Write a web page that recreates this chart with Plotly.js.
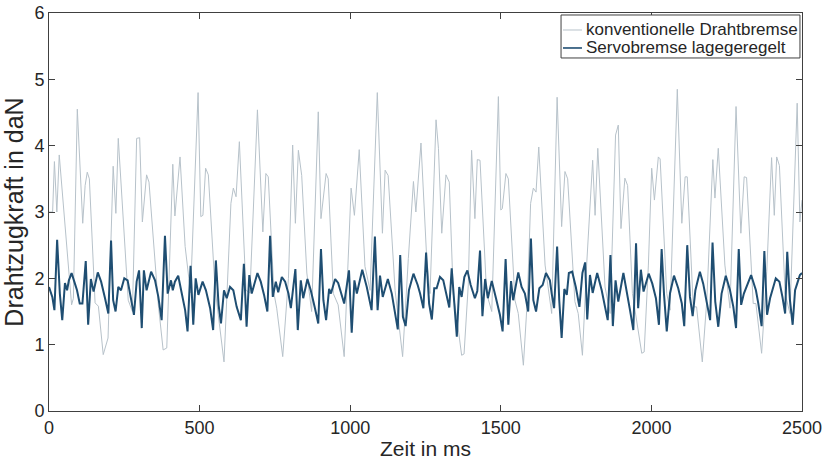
<!DOCTYPE html>
<html>
<head>
<meta charset="utf-8">
<script src="https://cdn.plot.ly/plotly-3.0.1.min.js"></script>
<style>html,body{margin:0;padding:0;background:#fff}#chart{width:827px;height:460px}</style>
</head>
<body>
<div id="chart"></div>
<script>
// konventionelle Drahtbremse: time (ms) and force (daN)
const tConv = [0,12,18,26,34,56,75,81,94,112,120,127,134,153,164,180,196,213,222,230,249,263,277,291,301,310,324,332,363,379,391,411,418,435,452,470,495,504,511,520,529,551,562,581,604,612,621,632,654,667,692,710,720,728,747,756,776,795,809,818,828,839,856,872,894,903,920,927,944,960,980,1003,1014,1030,1049,1066,1090,1107,1116,1126,1149,1160,1174,1193,1210,1218,1235,1254,1265,1285,1293,1304,1318,1329,1342,1356,1370,1378,1392,1403,1414,1422,1431,1453,1470,1492,1500,1505,1517,1525,1547,1558,1575,1588,1599,1608,1617,1626,1647,1669,1687,1702,1713,1722,1746,1757,1771,1785,1805,1813,1822,1846,1863,1881,1890,1899,1912,1921,1937,1968,1976,1990,2001,2010,2023,2029,2051,2062,2086,2101,2112,2119,2139,2150,2169,2184,2204,2211,2222,2244,2261,2281,2297,2308,2316,2338,2347,2366,2383,2399,2408,2416,2425,2444,2460,2484,2493,2500];
const fConv = [3.0,3.0,3.76,3.0,3.86,2.6,1.6,1.7,4.55,2.83,3.4,3.6,3.5,1.63,1.58,0.85,1.1,3.69,2.98,4.11,2.6,1.67,1.5,4.11,4.12,2.85,3.56,3.45,1.6,0.92,0.95,3.72,2.94,3.83,2.48,1.78,4.8,2.93,2.95,3.66,3.56,1.87,1.45,0.74,3.13,3.36,3.23,4.06,1.82,1.78,4.54,2.7,3.58,3.53,1.77,1.55,0.82,2.0,4.01,2.83,3.93,3.55,2.08,1.5,4.51,2.9,3.58,3.5,1.77,1.6,0.82,3.36,2.95,3.94,2.18,1.82,4.8,2.68,3.63,3.55,1.82,1.37,0.82,2.3,3.46,3.0,4.04,2.3,1.77,4.39,3.96,2.68,3.56,3.45,1.77,1.33,0.84,0.86,1.9,3.93,2.9,3.79,3.78,1.77,1.5,4.74,3.03,3.05,3.58,3.5,1.67,1.47,0.69,1.67,3.13,3.36,3.3,3.98,2.2,1.47,4.73,2.78,3.61,3.5,1.65,1.47,0.84,2.2,3.78,2.95,3.96,1.87,1.47,4.16,4.31,2.75,3.51,3.4,1.77,0.87,0.89,2.2,3.66,3.18,3.83,3.8,1.77,1.52,4.85,2.83,3.53,3.53,1.57,1.57,0.74,1.67,3.79,3.21,3.96,2.2,1.55,4.59,2.68,3.53,3.52,1.62,1.62,0.87,2.1,3.82,2.95,3.83,3.7,1.77,1.47,4.64,2.85,3.18];

// Servobremse lagegeregelt: time (ms) and force (daN)
const tServo = [0,11,18,27,36,44,53,60,66,75,84,93,102,111,122,130,139,148,162,173,186,197,206,213,221,230,239,250,261,272,282,291,299,308,315,324,339,352,363,374,385,394,405,411,418,429,441,452,460,470,479,487,496,510,521,535,545,554,563,571,581,590,601,612,623,637,647,656,665,673,692,703,714,725,734,743,753,761,773,784,795,803,818,826,836,844,858,869,883,894,903,911,920,930,936,950,960,980,996,1005,1014,1022,1040,1055,1071,1082,1091,1099,1108,1125,1138,1149,1158,1166,1175,1184,1195,1210,1224,1232,1243,1252,1262,1271,1279,1287,1298,1309,1320,1329,1337,1346,1354,1362,1370,1379,1389,1400,1414,1422,1431,1439,1448,1457,1470,1484,1497,1506,1516,1525,1534,1541,1558,1569,1580,1591,1600,1608,1617,1628,1639,1650,1663,1669,1677,1687,1694,1702,1711,1719,1726,1737,1749,1761,1771,1780,1787,1796,1805,1820,1835,1846,1855,1864,1872,1881,1890,1907,1918,1929,1940,1949,1956,1965,1974,1991,2003,2015,2025,2034,2042,2051,2062,2075,2089,2101,2109,2119,2128,2137,2146,2161,2172,2186,2195,2203,2212,2222,2233,2247,2261,2272,2281,2290,2298,2307,2331,2347,2355,2366,2375,2384,2394,2413,2425,2435,2444,2451,2460,2469,2477,2484,2493,2500];
const fServo = [1.87,1.72,1.52,2.58,1.77,1.37,1.93,1.82,1.97,2.08,1.95,1.82,1.62,1.62,2.26,1.3,1.99,1.8,2.09,1.95,1.7,1.47,2.57,1.67,1.5,1.87,1.82,2.0,1.97,1.72,1.45,1.95,2.12,1.25,2.12,1.82,2.1,1.97,1.72,1.37,2.64,1.77,1.97,1.82,1.95,2.04,1.77,1.52,1.2,2.19,1.3,2.0,1.75,1.95,1.82,1.55,1.22,2.27,1.6,1.32,1.82,1.7,1.87,1.82,1.57,1.37,2.22,1.27,2.05,1.77,2.08,1.95,1.75,1.5,2.64,1.72,1.95,1.79,2.02,1.95,1.77,1.55,2.14,1.22,1.97,1.7,1.99,1.82,1.55,1.32,2.44,1.67,1.37,1.84,1.77,1.99,1.93,1.62,2.12,1.18,1.97,1.77,2.13,1.87,1.52,2.63,1.52,2.04,1.72,1.99,1.77,1.45,1.23,2.35,1.42,1.28,1.82,2.07,1.9,1.77,1.55,2.39,1.62,1.38,1.85,1.85,2.02,1.97,1.77,1.56,2.15,1.67,1.12,1.87,1.72,2.02,2.12,1.9,1.7,1.81,2.42,1.43,1.99,1.7,1.96,1.7,1.45,1.2,2.29,1.3,1.96,1.67,2.09,1.87,1.77,1.5,2.6,1.67,1.5,1.85,1.9,2.08,1.97,1.77,1.55,2.48,1.67,1.1,1.84,1.75,2.08,2.1,1.87,1.57,2.08,2.24,1.38,2.05,1.78,2.08,1.82,1.57,1.37,2.35,1.28,1.97,1.65,2.08,1.82,1.52,1.22,2.53,1.55,2.13,1.8,2.07,1.92,1.7,1.3,2.44,1.75,1.2,1.78,2.04,1.85,1.62,1.28,2.5,1.72,1.43,1.82,2.1,1.92,1.6,1.37,2.54,1.65,1.27,1.77,2.04,1.82,1.57,1.25,2.44,1.6,1.77,2.05,1.82,1.62,1.28,2.41,1.45,1.7,2.0,1.95,1.72,1.47,2.4,1.67,1.3,1.82,1.92,2.05,2.08];

const xTicks = [0, 500, 1000, 1500, 2000, 2500];
const yTicks = [0, 1, 2, 3, 4, 5, 6];
const names = ['konventionelle Drahtbremse', 'Servobremse lagegeregelt'];
const xTitle = 'Zeit in ms';
const yTitle = 'Drahtzugkraft in daN';

const colConv = '#b7c2ca';
const colServo = '#1f4e72';
const axisCol = '#404040';
const textCol = '#262626';
const tickFont = {family: 'Liberation Sans Narrow, Arial Narrow, Liberation Sans, Arial, sans-serif', size: 18, color: textCol};

const data = [
  {x: tConv, y: fConv, name: names[0], type: 'scatter', mode: 'lines',
   line: {color: colConv, width: 1}},
  {x: tServo, y: fServo, name: names[1], type: 'scatter', mode: 'lines',
   line: {color: colServo, width: 2}}
];

// custom legend box (paper coordinates)
const lg = {x0: 0.680, x1: 0.9973, y0: 0.887, y1: 0.995, lx0: 0.6826, lx1: 0.7078, tx: 0.7105, rows: [0.9573, 0.9121]};
const legendCols = [colConv, colServo];
const legendWidths = [1, 1.6];

const shapes = [{type: 'rect', xref: 'paper', yref: 'paper', x0: lg.x0, x1: lg.x1, y0: lg.y0, y1: lg.y1,
  fillcolor: '#fff', line: {color: axisCol, width: 1}, layer: 'above'}];
const annotations = [];
names.forEach((n, i) => {
  shapes.push({type: 'line', xref: 'paper', yref: 'paper', x0: lg.lx0, x1: lg.lx1, y0: lg.rows[i], y1: lg.rows[i],
    line: {color: legendCols[i], width: legendWidths[i]}, layer: 'above'});
  annotations.push({xref: 'paper', yref: 'paper', x: lg.tx, y: lg.rows[i], xanchor: 'left', yanchor: 'middle',
    text: n, showarrow: false, font: {size: 17, color: textCol}});
});

const layout = {
  width: 827, height: 460,
  margin: {l: 49, r: 25, t: 13, b: 49},
  paper_bgcolor: '#fff', plot_bgcolor: '#fff',
  font: {family: 'Liberation Sans, Arial, sans-serif', color: textCol},
  showlegend: false,
  shapes: shapes,
  annotations: annotations,
  xaxis: {
    range: [0, 2500], tickvals: xTicks, ticktext: xTicks.map(String),
    ticks: 'inside', ticklen: 6, tickcolor: axisCol, tickwidth: 1,
    showline: true, linecolor: axisCol, linewidth: 1, mirror: 'ticks',
    showgrid: false, zeroline: false, tickfont: tickFont,
    title: {text: xTitle, font: {size: 21, color: textCol}, standoff: 4}
  },
  yaxis: {
    range: [0, 6], tickvals: yTicks, ticktext: yTicks.map(String),
    ticks: 'inside', ticklen: 6, tickcolor: axisCol, tickwidth: 1,
    showline: true, linecolor: axisCol, linewidth: 1, mirror: 'ticks',
    showgrid: false, zeroline: false, tickfont: tickFont,
    title: {text: yTitle, font: {size: 25, color: textCol}, standoff: 4}
  }
};

Plotly.newPlot('chart', data, layout, {displayModeBar: false, staticPlot: true});
</script>
</body>
</html>
